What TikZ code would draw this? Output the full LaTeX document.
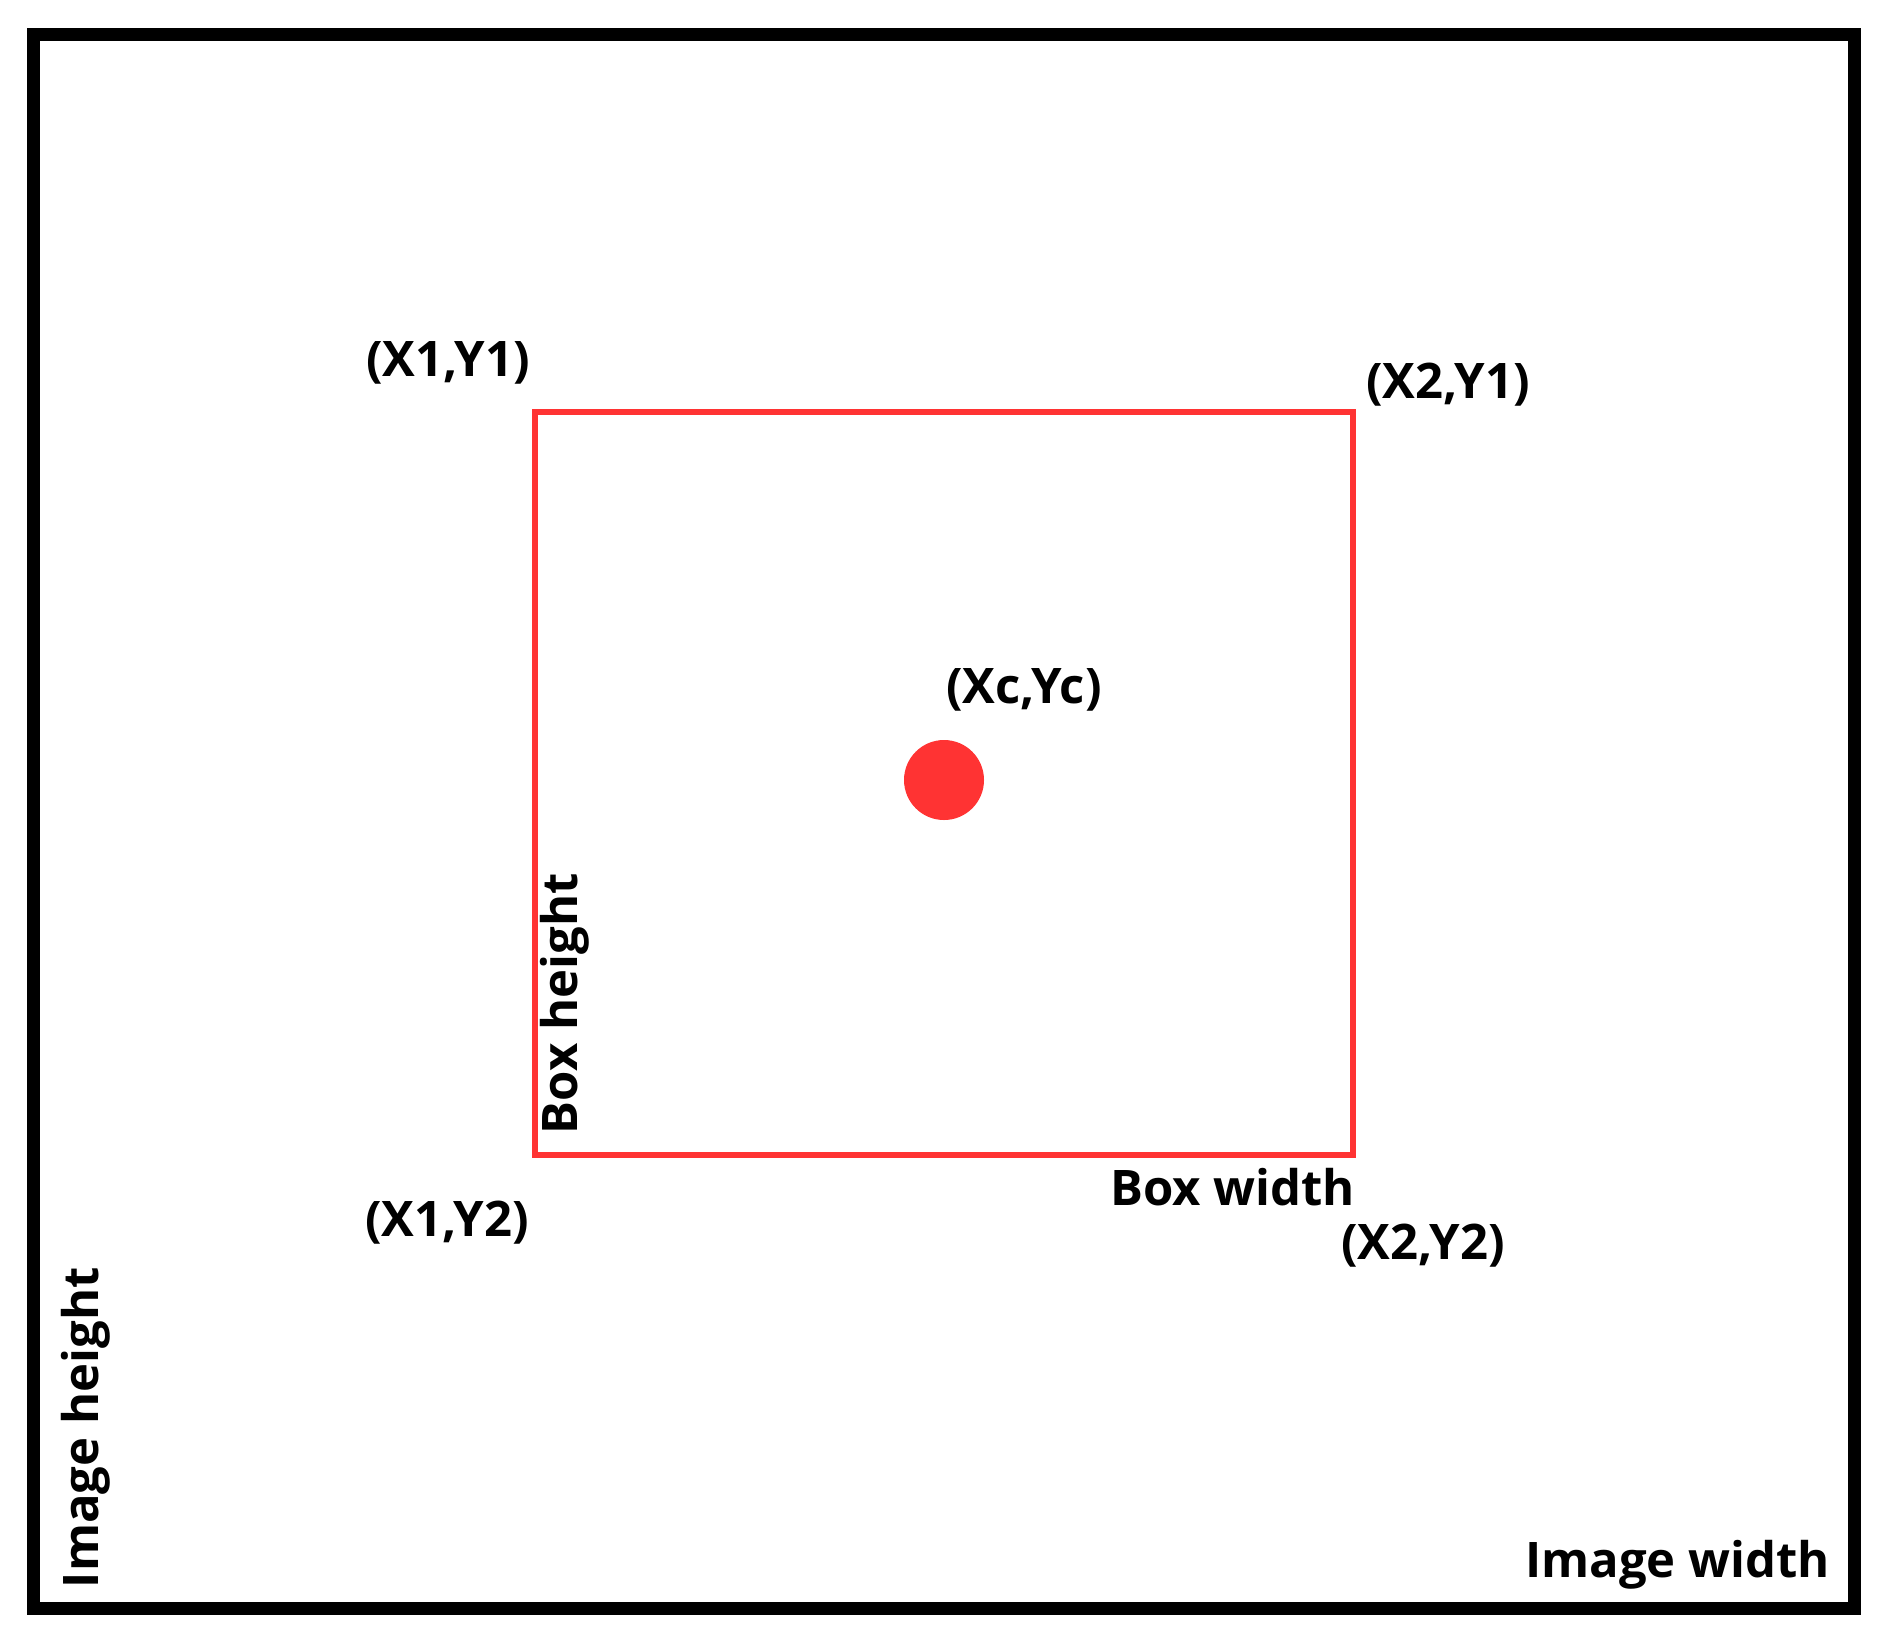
\documentclass[tikz,border=0pt]{standalone}
\usepackage{fontspec}
\setmainfont{Open Sans}
\definecolor{boxred}{RGB}{255,51,51}
\begin{document}
\begin{tikzpicture}[x=1pt,y=-1pt,
  lbl/.style={inner sep=0pt,outer sep=0pt,font=\fontsize{49}{58}\selectfont\bfseries,text=black},
  frameline/.style={draw=black,line width=13pt},
  redbox/.style={draw=boxred,line width=6pt},
]
\useasboundingbox[fill=white] (0,0) rectangle (1878,1639);
% image frame
\draw[frameline] (33.5,34) rectangle (1854,1608);
% bounding box
\draw[redbox] (535,411.5) rectangle (1352.5,1154.5);
% centre dot
\fill[boxred] (944,780) circle (40);
% labels
\node[lbl,anchor=base west] (x1y1) at (366,376) {(X1,Y1)};
\node[lbl,anchor=base west] (x2y1) at (1366,398) {(X2,Y1)};
\node[lbl,anchor=base west] (xcyc) at (946,703) {(Xc,Yc)};
\node[lbl,anchor=base west] (x1y2) at (365,1236) {(X1,Y2)};
\node[lbl,anchor=base east] (bw) at (1355,1205) {Box width};
\node[lbl,anchor=base west] (x2y2) at (1341,1259) {(X2,Y2)};
\node[lbl,anchor=base west,rotate=90] (bh) at (577,1134) {Box height};
\node[lbl,anchor=base west,rotate=90] (ih) at (98,1588) {Image height};
\node[lbl,anchor=base east] (iw) at (1830,1577) {Image width};
\end{tikzpicture}
\end{document}
